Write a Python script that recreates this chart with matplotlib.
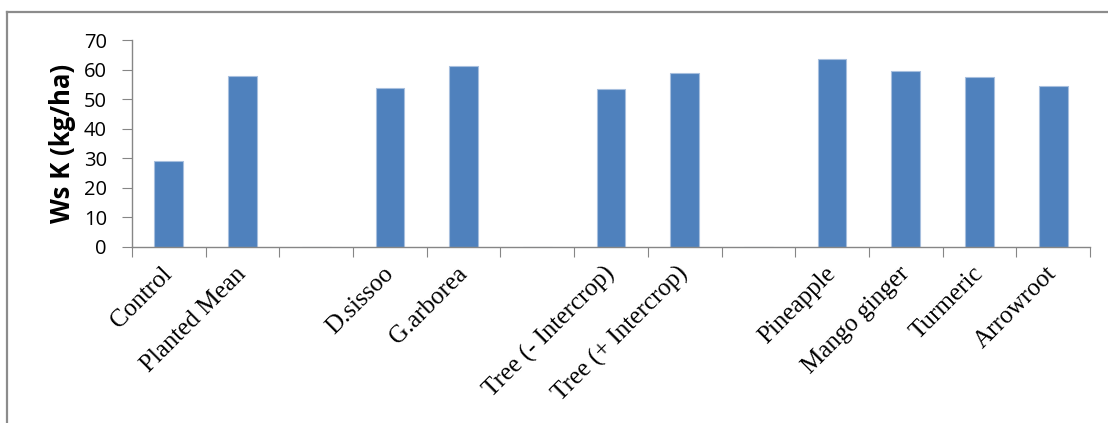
import numpy as np
import matplotlib.pyplot as plt
from matplotlib.lines import Line2D

# blank entries keep the gaps between treatment groups
categories = ['Control', 'Planted Mean', '', 'D.sissoo', 'G.arborea', '',
              'Tree (- Intercrop)', 'Tree (+ Intercrop)', '',
              'Pineapple', 'Mango ginger', 'Turmeric', 'Arrowroot']
ws_k = [29.1, 57.8, np.nan, 53.8, 61.2, np.nan, 53.4, 58.8, np.nan,
        63.5, 59.4, 57.4, 54.5]
y_ticks = [0, 10, 20, 30, 40, 50, 60, 70]

x = np.arange(len(categories))

fig = plt.figure(figsize=(11.08, 4.23), dpi=100)
ax = fig.add_axes([0.1191, 0.4161, 0.8647, 0.4893])

vals = np.nan_to_num(ws_k)
ax.bar(x, vals, width=0.39, color='#4F81BD', edgecolor='#A7BFDE',
       linewidth=0.8, zorder=2)

ax.set_xlim(-0.5, len(categories) - 0.5)
ax.set_ylim(0, 70)
ax.set_yticks(y_ticks)
ax.set_yticklabels([str(v) for v in y_ticks], family='Open Sans', size=14.5)

# ticks sit between categories, labels under the bars
ax.set_xticks(np.arange(-0.5, len(categories)), minor=False)
ax.set_xticklabels([])
ax.set_xticks(x, minor=True)
ax.set_xticklabels(categories, minor=True, rotation=45, ha='right',
                   va='center', rotation_mode='anchor',
                   family='Liberation Serif', size=18)
ax.tick_params(axis='x', which='minor', length=0, pad=17)
ax.tick_params(axis='x', which='major', length=7, color='#868686')
ax.tick_params(axis='y', length=7, color='#868686', pad=11)

for side in ['top', 'right']:
    ax.spines[side].set_visible(False)
for side in ['left', 'bottom']:
    ax.spines[side].set_color('#868686')
    ax.spines[side].set_linewidth(1.0)

ax.set_ylabel('Ws K (kg/ha)', family='Open Sans', weight='bold', size=18.5,
              labelpad=6)

# chart area border (top and left edges)
fig.add_artist(Line2D([7 / 1108, 1.0], [1 - 12.5 / 423, 1 - 12.5 / 423],
                      transform=fig.transFigure, color='#8C8C8C', lw=1.6))
fig.add_artist(Line2D([7 / 1108, 7 / 1108], [0, 1 - 12.5 / 423],
                      transform=fig.transFigure, color='#8C8C8C', lw=1.6))

fig.savefig('out.png', dpi=100)
